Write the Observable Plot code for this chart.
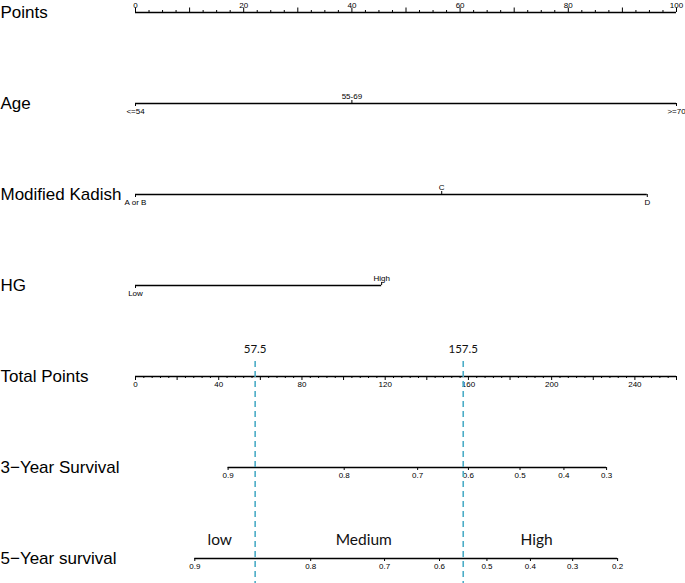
<!DOCTYPE html>
<html><head><meta charset="utf-8">
<script src="https://cdn.jsdelivr.net/npm/d3@7"></script>
<script src="https://cdn.jsdelivr.net/npm/@observablehq/plot@0.6"></script>
<style>body{margin:0;background:#fff} svg{display:block}</style>
</head><body><div id="chart"></div>
<script>
// ---- data ----
const rowNames = ["Points", "Age", "Modified Kadish", "HG", "Total Points", "3\u2212Year Survival", "5\u2212Year survival"];

const pointsLabels = [0, 20, 40, 60, 80, 100];
const pointsMax = 100;

const ageLevels = ["<=54", "55-69", ">=70"];
const agePoints = [0, 40, 100];

const kadishLevels = ["A or B", "C", "D"];
const kadishPoints = [0, 56.6, 94.6];

const hgLevels = ["Low", "High"];
const hgPoints = [0, 45.5];

const totalLabels = [0, 40, 80, 120, 160, 200, 240];
const totalMax = 260;

const surv3Labels = ["0.9", "0.8", "0.7", "0.6", "0.5", "0.4", "0.3"];
const surv3Total = [44.5, 100.3, 135.6, 160.0, 184.8, 205.9, 226.4];

const surv5Labels = ["0.9", "0.8", "0.7", "0.6", "0.5", "0.4", "0.3", "0.2"];
const surv5Total = [28.5, 84.2, 119.7, 146.1, 168.9, 189.8, 210.1, 231.7];

const cutoffs = [57.5, 157.5];
const cutoffLabels = ["57.5", "157.5"];

const riskNames = ["low", "Medium", "High"];
const riskTotal = [40.5, 109.7, 192.8];

// ---- build tables ----
const P = pointsMax / totalMax; // total points -> points scale
const R = rowNames;

const lines = [
  {row: R[0], x1: 0, x2: pointsMax},
  {row: R[1], x1: d3.min(agePoints), x2: d3.max(agePoints)},
  {row: R[2], x1: d3.min(kadishPoints), x2: d3.max(kadishPoints)},
  {row: R[3], x1: d3.min(hgPoints), x2: d3.max(hgPoints)},
  {row: R[4], x1: 0, x2: totalMax * P},
  {row: R[5], x1: surv3Total[0] * P, x2: surv3Total[surv3Total.length - 1] * P},
  {row: R[6], x1: surv5Total[0] * P, x2: surv5Total[surv5Total.length - 1] * P}
];

const upLong = [], upShort = [], downLong = [], downShort = [], downMid = [], upMid = [];
const labelsAbove = [], labelsBelow = [];

// Points axis
d3.range(0, pointsMax + 0.001, 2.5).forEach(v => {
  (v % 10 === 0 ? upLong : upShort).push({row: R[0], x: v});
});
pointsLabels.forEach(v => labelsAbove.push({row: R[0], x: v, text: String(v)}));

// categorical rows: alternate below / above
[[R[1], ageLevels, agePoints], [R[2], kadishLevels, kadishPoints], [R[3], hgLevels, hgPoints]].forEach(([row, lev, pts]) => {
  lev.forEach((l, i) => {
    if (i % 2 === 0) { downMid.push({row, x: pts[i]}); labelsBelow.push({row, x: pts[i], text: l}); }
    else { upMid.push({row, x: pts[i]}); labelsAbove.push({row, x: pts[i], text: l}); }
  });
});

// Total points axis
d3.range(0, totalMax + 0.001, 4).forEach(v => {
  (v % 20 === 0 ? downLong : downShort).push({row: R[4], x: v * P});
});
totalLabels.forEach(v => labelsBelow.push({row: R[4], x: v * P, text: String(v)}));

// survival axes
surv3Total.forEach((t, i) => { downMid.push({row: R[5], x: t * P}); labelsBelow.push({row: R[5], x: t * P, text: surv3Labels[i]}); });
surv5Total.forEach((t, i) => { downMid.push({row: R[6], x: t * P}); labelsBelow.push({row: R[6], x: t * P, text: surv5Labels[i]}); });

const cut = cutoffs.map((c, i) => ({x: c * P, text: cutoffLabels[i]}));
const risk = riskNames.map((n, i) => ({x: riskTotal[i] * P, text: n}));

const tickFont = "Liberation Sans, Arial, sans-serif";
const tick = (data, top, bottom) => Plot.ruleX(data, {x: "x", y1: "row", y2: "row", insetTop: top, insetBottom: bottom, stroke: "black", strokeWidth: 1});

const chart = Plot.plot({
  width: 685,
  height: 583,
  margin: 0,
  style: {fontFamily: tickFont, background: "white"},
  x: {domain: [0, pointsMax], range: [135, 676], axis: null},
  y: {type: "point", domain: rowNames, range: [11, 558], padding: 0, axis: null},
  marks: [
    Plot.ruleY(lines, {y: "row", x1: "x1", x2: "x2", stroke: "black", strokeWidth: 1.4}),
    tick(upLong, -4.5, 0),
    tick(upShort, -2, 0),
    tick(upMid, -3, 0),
    tick(downLong, 0, -4),
    tick(downShort, 0, -2),
    tick(downMid, 0, -3),
    Plot.text(labelsAbove, {x: "x", y: "row", text: "text", dy: -7, fontSize: 8, fill: "black"}),
    Plot.text(labelsBelow, {x: "x", y: "row", text: "text", dy: 8, fontSize: 8, fill: "black"}),
    Plot.text(rowNames, {y: d => d, text: d => d, frameAnchor: "left", textAnchor: "start", fontSize: 17, fill: "black"}),
    Plot.ruleX(cut, {x: "x", y1: () => R[4], y2: () => R[6], insetTop: -15, insetBottom: -25, stroke: "#4bacc6", strokeWidth: 1.6, strokeDasharray: "6,4"}),
    Plot.text(cut, {x: "x", y: () => R[4], text: "text", dy: -27, fontSize: 11.5, fontFamily: "Lato, sans-serif", fill: "#111"}),
    Plot.text(risk, {x: "x", y: () => R[6], text: "text", dy: -18, fontSize: 15.5, fontFamily: "Lato, sans-serif", fill: "#111"})
  ]
});
document.getElementById("chart").append(chart);
</script>
</body></html>
